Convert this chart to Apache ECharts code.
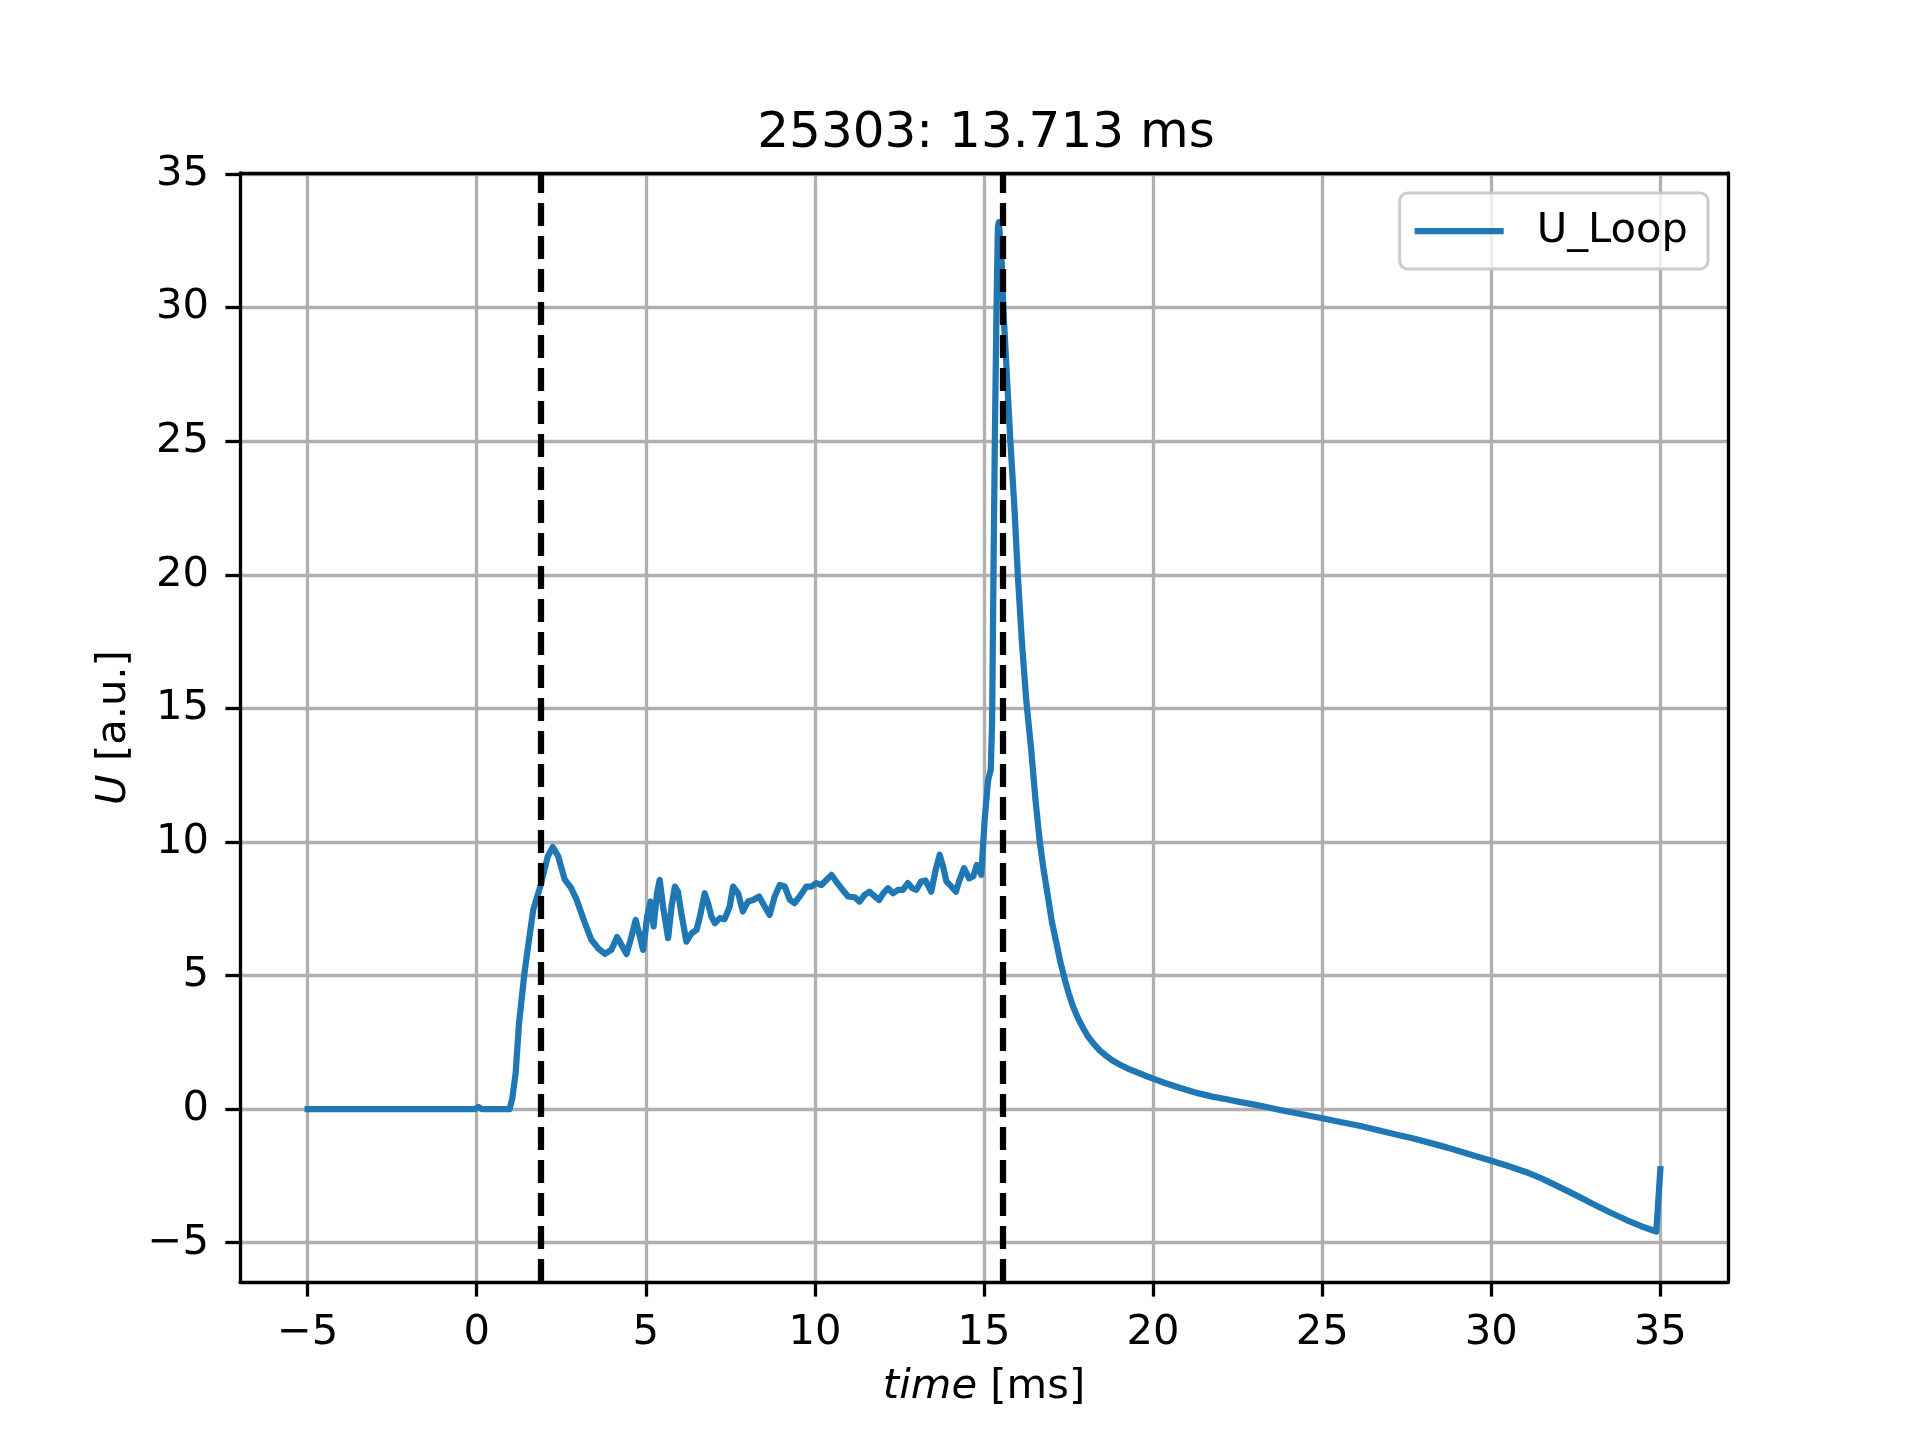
<!DOCTYPE html>
<html>
<head>
<meta charset="utf-8">
<script src="https://cdn.jsdelivr.net/npm/echarts@6/dist/echarts.min.js"></script>
<style>
  html, body { margin: 0; padding: 0; background: #fff; }
  #chart { width: 1920px; height: 1440px; }
</style>
</head>
<body>
<div id="chart"></div>
<script>
// loop voltage trace
const timeMs = [
  -5, -0.05, 0.05, 0.15, 0.97,
  1.05, 1.15, 1.25, 1.41, 1.52,
  1.67, 1.88, 2.1, 2.25, 2.41,
  2.6, 2.78, 2.95, 3.2, 3.39,
  3.59, 3.79, 3.98, 4.15, 4.28,
  4.43, 4.55, 4.7, 4.8, 4.92,
  5.04, 5.14, 5.23, 5.33, 5.41,
  5.51, 5.66, 5.76, 5.86, 5.95,
  6.05, 6.2, 6.35, 6.5, 6.6,
  6.74, 6.84, 6.94, 7.04, 7.19,
  7.33, 7.48, 7.58, 7.73, 7.87,
  8.02, 8.17, 8.35, 8.49, 8.66,
  8.81, 8.96, 9.11, 9.26, 9.4,
  9.55, 9.75, 9.9, 10.04, 10.19,
  10.34, 10.49, 10.63, 10.78, 10.98,
  11.18, 11.32, 11.47, 11.62, 11.77,
  11.9, 12.02, 12.16, 12.31, 12.46,
  12.6, 12.75, 12.88, 13.0, 13.14,
  13.27, 13.44, 13.57, 13.69, 13.79,
  13.89, 14.04, 14.17, 14.28, 14.41,
  14.56, 14.68, 14.79, 14.92, 15.02,
  15.12, 15.2, 15.24, 15.28, 15.32,
  15.37, 15.41, 15.44, 15.52, 15.57,
  15.78, 15.9, 16.0, 16.12, 16.25,
  16.4, 16.52, 16.65, 16.77, 16.89,
  17.01, 17.14, 17.26, 17.39, 17.5,
  17.63, 17.78, 17.93, 18.07, 18.22,
  18.42, 18.62, 18.8, 19.01, 19.25,
  19.51, 19.75, 20.0, 20.35, 20.69,
  21.0, 21.38, 21.75, 22.17, 22.55,
  22.96, 23.35, 23.75, 24.4, 25.0,
  25.5, 26.1, 26.6, 27.09, 27.7,
  28.27, 28.7, 29.06, 29.5, 30.0,
  30.5, 31.04, 31.5, 32.02, 32.5,
  33.01, 33.5, 34.0, 34.45, 34.88,
  35.0,
];
const uLoop = [
  0, 0, 0.08, 0, 0,
  0.4, 1.33, 3.2, 5.08, 6.1,
  7.46, 8.34, 9.46, 9.81, 9.46,
  8.6, 8.3, 7.85, 6.96, 6.34,
  6.02, 5.81, 5.96, 6.44, 6.15,
  5.81, 6.34, 7.08, 6.58, 5.96,
  7.21, 7.77, 6.84, 8.08, 8.58,
  7.58, 6.4, 7.58, 8.33, 8.14,
  7.33, 6.27, 6.58, 6.71, 7.21,
  8.08, 7.71, 7.21, 6.96, 7.15,
  7.11, 7.58, 8.33, 8.08, 7.4,
  7.77, 7.83, 7.96, 7.64, 7.27,
  7.96, 8.39, 8.33, 7.83, 7.71,
  7.96, 8.33, 8.33, 8.46, 8.39,
  8.58, 8.77, 8.52, 8.27, 7.96,
  7.93, 7.77, 8.02, 8.14, 7.96,
  7.83, 8.08, 8.27, 8.08, 8.21,
  8.21, 8.46, 8.27, 8.21, 8.52,
  8.56, 8.14, 8.96, 9.52, 9.08,
  8.52, 8.33, 8.14, 8.58, 9.02,
  8.64, 8.71, 9.14, 8.77, 10.83,
  12.3, 12.7, 14.5, 20, 25,
  30, 33, 33.2, 31.8, 30,
  25, 22.5, 20, 17.5, 15.3,
  13.4, 11.6, 10.0, 8.9, 7.96,
  7.0, 6.22, 5.5, 4.85, 4.35,
  3.85, 3.4, 3.04, 2.73, 2.48,
  2.2, 1.99, 1.82, 1.67, 1.52,
  1.39, 1.26, 1.14, 0.98, 0.84,
  0.72, 0.58, 0.47, 0.37, 0.27,
  0.18, 0.08, -0.03, -0.19, -0.34,
  -0.47, -0.62, -0.77, -0.92, -1.1,
  -1.29, -1.44, -1.58, -1.74, -1.93,
  -2.13, -2.36, -2.6, -2.92, -3.22,
  -3.55, -3.86, -4.15, -4.39, -4.58,
  -2.25,
];
// dashed markers
const markerTimes = [1.88, 15.56];

const xTicks = [-5, 0, 5, 10, 15, 20, 25, 30, 35];
const yTicks = [-5, 0, 5, 10, 15, 20, 25, 30, 35];

const FONT = 'DejaVu Sans';
const LW = 6.25;  // 1.5pt @ 300dpi
const AXW = 3.3;  // 0.8pt

const fmt = (v) => (v < 0 ? '\u2212' + Math.abs(v) : String(v));

const chart = echarts.init(document.getElementById('chart'), null, { renderer: 'canvas' });

// top / right spines
const frameAxis = {
  axisLine: { show: true, onZero: false, lineStyle: { color: '#000', width: AXW } },
  axisTick: { show: false },
  axisLabel: { show: false },
  splitLine: { show: false },
};

const options = {
  animation: false,
  backgroundColor: '#fff',
  title: {
    text: '25303: 13.713 ms',
    left: 981,
    textAlign: 'center',
    top: 104,
    textStyle: { fontFamily: FONT, fontSize: 50, fontWeight: 'normal', color: '#000' },
  },
  legend: {
    right: 212,
    top: 193,
    padding: [17, 20, 17, 15],
    backgroundColor: 'rgba(255,255,255,0.8)',
    borderColor: '#cccccc',
    borderWidth: 3,
    borderRadius: 8,
    icon: 'rect',
    itemWidth: 89,
    itemHeight: LW,
    textStyle: { fontFamily: FONT, fontSize: 41.7, color: '#000', padding: [0, 0, 0, 28] },
    data: ['U_Loop'],
  },
  grid: { left: 240, top: 173, width: 1488, height: 1109, containLabel: false },
  xAxis: [
    {
      type: 'value',
      min: -7,
      max: 37,
      splitNumber: 8,
      name: '{i|time} [ms]',
      nameLocation: 'middle',
      nameGap: 84,
      nameTextStyle: {
        fontFamily: FONT, fontSize: 41.7, color: '#000',
        rich: { i: { fontFamily: FONT, fontSize: 41.7, fontStyle: 'italic', color: '#000' } },
      },
      axisLine: { show: true, onZero: false, lineStyle: { color: '#000', width: AXW } },
      axisTick: { show: true, length: 14.6, customValues: xTicks, lineStyle: { color: '#000', width: AXW } },
      axisLabel: {
        customValues: xTicks, margin: 30, formatter: fmt,
        fontFamily: FONT, fontSize: 41.7, color: '#000',
      },
      splitLine: { show: true, lineStyle: { color: '#b0b0b0', width: AXW } },
    },
    Object.assign({ type: 'value', min: -7, max: 37, position: 'top' }, frameAxis),
  ],
  yAxis: [
    {
      type: 'value',
      min: -6.47,
      max: 35.04,
      splitNumber: 8,
      name: '{i|U} [a.u.]',
      nameLocation: 'middle',
      nameGap: 105,
      nameTextStyle: {
        fontFamily: FONT, fontSize: 41.7, color: '#000',
        rich: { i: { fontFamily: FONT, fontSize: 41.7, fontStyle: 'italic', color: '#000' } },
      },
      axisLine: { show: true, onZero: false, lineStyle: { color: '#000', width: AXW } },
      axisTick: { show: true, length: 14.6, customValues: yTicks, lineStyle: { color: '#000', width: AXW } },
      axisLabel: {
        customValues: yTicks, margin: 31, formatter: fmt,
        fontFamily: FONT, fontSize: 41.7, color: '#000',
      },
      splitLine: { show: true, lineStyle: { color: '#b0b0b0', width: AXW } },
    },
    Object.assign({ type: 'value', min: -6.47, max: 35.04, position: 'right' }, frameAxis),
  ],
  series: [
    {
      name: 'U_Loop',
      type: 'line',
      xAxisIndex: 0,
      yAxisIndex: 0,
      data: timeMs.map((t, i) => [t, uLoop[i]]),
      showSymbol: false,
      symbol: 'none',
      lineStyle: { color: '#1f77b4', width: LW, join: 'round', cap: 'square' },
      itemStyle: { color: '#1f77b4' },
      z: 3,
      markLine: {
        silent: true,
        symbol: ['none', 'none'],
        label: { show: false },
        lineStyle: { color: '#000', width: LW, type: [23, 10] },
        data: markerTimes.map((t) => ({ xAxis: t })),
      },
    },
  ],
};

chart.setOption(options);
</script>
</body>
</html>
